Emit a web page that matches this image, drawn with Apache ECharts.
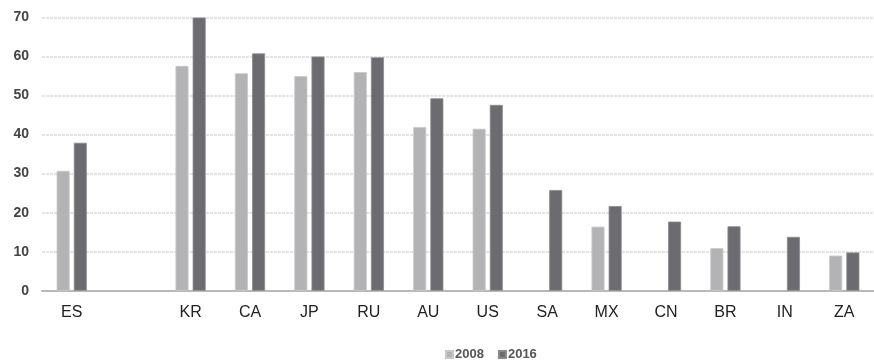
<!DOCTYPE html>
<html>
<head>
<meta charset="utf-8">
<script src="https://cdn.jsdelivr.net/npm/echarts@6/dist/echarts.min.js"></script>
<style>
  html, body { margin: 0; padding: 0; background: #fff; }
  #chart { width: 874px; height: 362px; }
</style>
</head>
<body>
<div id="chart"></div>
<script>
// Country codes along the x axis (blank slot keeps the spacing after ES)
const countries = ['ES', '', 'KR', 'CA', 'JP', 'RU', 'AU', 'US', 'SA', 'MX', 'CN', 'BR', 'IN', 'ZA'];
// Values per country; null where no bar is drawn
const values2008 = [30.7, null, 57.6, 55.7, 55.0, 56.0, 41.9, 41.5, null, 16.4, null, 10.9, null, 9.0];
const values2016 = [37.9, null, 70.0, 60.8, 60.0, 59.8, 49.3, 47.6, 25.8, 21.7, 17.7, 16.5, 13.8, 9.8];
const seriesNames = ['2008', '2016'];
const yTicks = { min: 0, max: 70, interval: 10 };

const chart = echarts.init(document.getElementById('chart'), null, { renderer: 'canvas' });

chart.setOption({
  animation: false,
  backgroundColor: '#ffffff',
  grid: { left: 42, top: 17.5, width: 838, height: 273.2 },
  legend: {
    data: seriesNames,
    top: 343,
    left: 440,
    itemWidth: 7,
    itemHeight: 7,
    itemGap: 14,
    icon: 'rect',
    textStyle: { color: '#555', fontSize: 13, fontWeight: 'bold', fontFamily: 'Liberation Sans', padding: [0, 0, 0, -3] }
  },
  xAxis: {
    type: 'category',
    data: countries,
    axisTick: { show: false },
    axisLine: { lineStyle: { color: '#b8b8b8', width: 2 } },
    axisLabel: { color: '#222', fontSize: 16, fontFamily: 'Liberation Sans Narrow, Liberation Sans', margin: 14, interval: 0 }
  },
  yAxis: {
    type: 'value',
    min: yTicks.min,
    max: yTicks.max,
    interval: yTicks.interval,
    axisLine: { show: false },
    axisTick: { show: false },
    axisLabel: { color: '#444', fontSize: 14, fontWeight: 'bold', fontFamily: 'Liberation Sans', margin: 13 },
    splitLine: { lineStyle: { color: '#dcdcdc', width: 1.5, type: [3, 1] } }
  },
  series: [
    {
      name: seriesNames[0],
      type: 'bar',
      data: values2008,
      barWidth: 13,
      barGap: '32%',
      itemStyle: { color: '#b3b3b6', borderColor: '#c8c8ca', borderWidth: 0.8 }
    },
    {
      name: seriesNames[1],
      type: 'bar',
      data: values2016,
      barWidth: 13,
      barGap: '32%',
      itemStyle: { color: '#6c6c70', borderColor: '#8a8a8e', borderWidth: 0.8 }
    }
  ]
});
</script>
</body>
</html>
